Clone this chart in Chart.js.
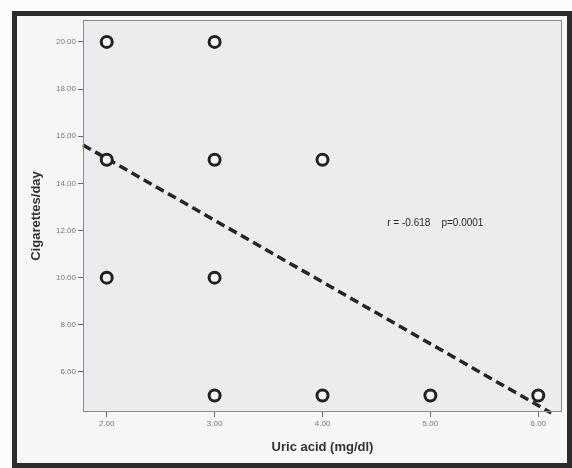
<!DOCTYPE html>
<html>
<head>
<meta charset="utf-8">
<script src="https://cdn.jsdelivr.net/npm/chart.js@4/dist/chart.umd.min.js"></script>
<style>
  html,body{margin:0;padding:0;background:#fbfbfb;}
  #wrap{position:absolute;left:0;top:0;width:572px;height:468px;}
</style>
</head>
<body>
<div id="wrap"><canvas id="c" width="572" height="468"></canvas></div>
<script>
// Data
const uricAcid   = [2, 3, 2, 3, 4, 2, 3, 3, 4, 5, 6];
const cigarettes = [20, 20, 15, 15, 15, 10, 10, 5, 5, 5, 5];
const fitX = [1.78, 6.12];
const fitY = [15.63, 4.26];
const xTicks = [2, 3, 4, 5, 6];
const yTicks = [6, 8, 10, 12, 14, 16, 18, 20];
const statsText = 'r = -0.618    p=0.0001';
const xTitle = 'Uric acid (mg/dl)';
const yTitle = 'Cigarettes/day';

const points = uricAcid.map((x, i) => ({x: x, y: cigarettes[i]}));
const fitLine = fitX.map((x, i) => ({x: x, y: fitY[i]}));

const framePlugin = {
  id: 'frame',
  beforeDraw(chart) {
    const ctx = chart.ctx;
    const a = chart.chartArea;
    ctx.save();
    ctx.fillStyle = '#f6f6f5';
    ctx.fillRect(14, 13, 556, 453);
    ctx.strokeStyle = '#2c2c2c';
    ctx.lineWidth = 5;
    ctx.strokeRect(14.5, 13.5, 555, 452);
    ctx.fillStyle = '#eaecee';
    ctx.fillRect(a.left, a.top, a.right - a.left, a.bottom - a.top);
    ctx.restore();
  },
  afterDatasetsDraw(chart) {
    const ctx = chart.ctx;
    const a = chart.chartArea;
    ctx.save();
    ctx.strokeStyle = '#8a8a8a';
    ctx.lineWidth = 1;
    ctx.strokeRect(a.left + 0.5, a.top + 0.5, a.right - a.left - 1, a.bottom - a.top - 1);
    const xs = chart.scales.x, ys = chart.scales.y;
    ctx.fillStyle = '#2a2a2a';
    ctx.font = '10px "Liberation Sans", Arial, sans-serif';
    ctx.textBaseline = 'middle';
    ctx.textAlign = 'left';
    ctx.fillText(statsText, xs.getPixelForValue(4.60), ys.getPixelForValue(12.32));
    ctx.restore();
  }
};

new Chart(document.getElementById('c'), {
  type: 'scatter',
  data: {
    datasets: [
      {
        type: 'line',
        data: fitLine,
        borderColor: '#262626',
        borderWidth: 3.5,
        borderDash: [9, 5],
        pointRadius: 0,
        fill: false,
        clip: false,
        order: 2
      },
      {
        data: points,
        pointRadius: 5.5,
        pointBorderWidth: 3,
        borderColor: '#222',
        backgroundColor: 'rgba(245,246,247,1)',
        pointHoverRadius: 5.5,
        order: 1
      }
    ]
  },
  plugins: [framePlugin],
  options: {
    responsive: false,
    animation: false,
    events: [],
    layout: {padding: {left: 0, top: 20, right: 10, bottom: 0}},
    plugins: {legend: {display: false}, tooltip: {enabled: false}},
    scales: {
      x: {
        type: 'linear',
        min: 1.78, max: 6.22,
        afterBuildTicks: s => { s.ticks = xTicks.map(v => ({value: v})); },
        afterFit: s => { s.height = 56; },
        grid: {display: true, drawOnChartArea: false, drawTicks: true, tickLength: 5, color: '#6a6a6a'},
        border: {display: false},
        ticks: {
          color: '#777', padding: 2,
          font: {size: 8, family: '"Liberation Sans", Arial, sans-serif'},
          callback: v => Number(v).toFixed(2)
        },
        title: {
          display: true, text: xTitle, color: '#333',
          font: {size: 13, weight: 'bold', family: '"Liberation Sans", Arial, sans-serif'},
          padding: {top: 0, bottom: 13}
        }
      },
      y: {
        type: 'linear',
        min: 4.30, max: 20.93,
        afterBuildTicks: s => { s.ticks = yTicks.map(v => ({value: v})); },
        afterFit: s => { s.width = 83; },
        grid: {display: true, drawOnChartArea: false, drawTicks: true, tickLength: 5, color: '#6a6a6a'},
        border: {display: false},
        ticks: {
          color: '#777', padding: 2,
          font: {size: 8, family: '"Liberation Sans", Arial, sans-serif'},
          callback: v => Number(v).toFixed(2)
        },
        title: {
          display: true, text: yTitle, color: '#333',
          font: {size: 13, weight: 'bold', family: '"Liberation Sans", Arial, sans-serif'},
          padding: {top: 29, bottom: 0}
        }
      }
    }
  }
});
</script>
</body>
</html>
